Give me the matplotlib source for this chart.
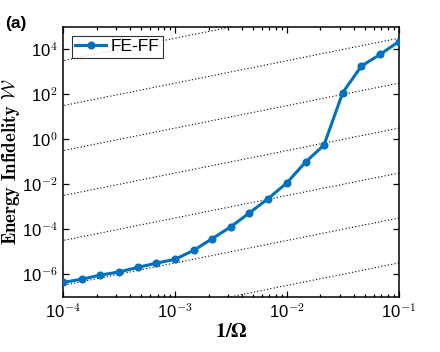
import matplotlib
matplotlib.use("Agg")
import matplotlib.pyplot as plt
import numpy as np
from matplotlib.ticker import LogLocator, FixedLocator, NullLocator

# ---- data ----
inv_omega = [1.00e-4, 1.47e-4, 2.15e-4, 3.16e-4, 4.64e-4, 6.81e-4,
             1.00e-3, 1.47e-3, 2.15e-3, 3.16e-3, 4.64e-3, 6.81e-3,
             1.00e-2, 1.47e-2, 2.15e-2, 3.16e-2, 4.64e-2, 6.81e-2, 1.00e-1]
infidelity = [4.3e-7, 6.0e-7, 9.1e-7, 1.26e-6, 2.0e-6, 3.1e-6,
              4.6e-6, 1.15e-5, 3.8e-5, 1.29e-4, 5.4e-4, 2.3e-3,
              1.15e-2, 9.8e-2, 0.56, 120, 1820, 6000, 22400]
series_label = "FE-FF"
# guide lines W = C * (1/Omega), log10 of C
guide_log_c = [-4.5, -2.5, -0.5, 1.5, 3.5, 5.5, 7.5]
guide_x = [1e-5, 1.0]

xticks = [1e-4, 1e-3, 1e-2, 1e-1]
yticks = [1e-6, 1e-4, 1e-2, 1e0, 1e2, 1e4]

plt.rcParams['mathtext.fontset'] = 'cm'
plt.rcParams['font.family'] = ['Liberation Sans', 'DejaVu Sans']

fig = plt.figure(figsize=(4.4, 3.52), dpi=100)
ax = fig.add_axes([63/440, 1 - 296.7/352, (398.7-63)/440, (296.7-27)/352])

for lc in guide_log_c:
    gx = np.array(guide_x)
    ax.plot(gx, gx * 10**lc, linestyle=(0, (1, 2)), color='black', lw=0.8, zorder=1)

ax.plot(inv_omega, infidelity, '-o', color='#0072BD', lw=2.2, ms=4.8,
        label=series_label, zorder=3)

ax.set_xscale('log')
ax.set_yscale('log')
ax.set_xlim(1e-4, 1e-1)
ax.set_ylim(1e-7, 1e5)

ax.xaxis.set_major_locator(FixedLocator(xticks))
ax.xaxis.set_minor_locator(LogLocator(base=10, subs=np.arange(2, 10), numticks=20))
ax.yaxis.set_major_locator(FixedLocator(yticks))
ax.yaxis.set_minor_locator(NullLocator())

ax.tick_params(which='both', direction='in', top=True, right=True, labelsize=12, width=0.9)
ax.tick_params(which='major', length=4.5, pad=4)
ax.tick_params(which='minor', length=2.5)
for s in ax.spines.values():
    s.set_linewidth(1.1)

ax.set_xticklabels([r'10$^{\mathsf{-4}}$', r'10$^{\mathsf{-3}}$', r'10$^{\mathsf{-2}}$', r'10$^{\mathsf{-1}}$'])
ax.set_yticklabels([r'10$^{\mathsf{-6}}$', r'10$^{\mathsf{-4}}$', r'10$^{\mathsf{-2}}$',
                    r'10$^{\mathsf{0}}$', r'10$^{\mathsf{2}}$', r'10$^{\mathsf{4}}$'])

ylab = ax.set_ylabel(r'$\mathbf{Energy\ Infidelity}\ \mathcal{W}$', fontsize=13.5)
ylab.set_va('center')
ax.yaxis.set_label_coords(-0.155, 0.501)
ax.set_xlabel(r'$\mathbf{1/\Omega}$', fontsize=14.5, labelpad=1, math_fontfamily='stix')

leg = ax.legend(loc='upper left', fontsize=12.5, frameon=True, fancybox=False,
                edgecolor='black', borderpad=0.2, handlelength=1.8,
                handletextpad=0.25, borderaxespad=0.5)
leg.get_frame().set_linewidth(0.8)

fig.text(0.012, 0.955, '(a)', fontsize=12.5, fontweight='bold', va='top', ha='left')

fig.savefig('out.png', dpi=100)
